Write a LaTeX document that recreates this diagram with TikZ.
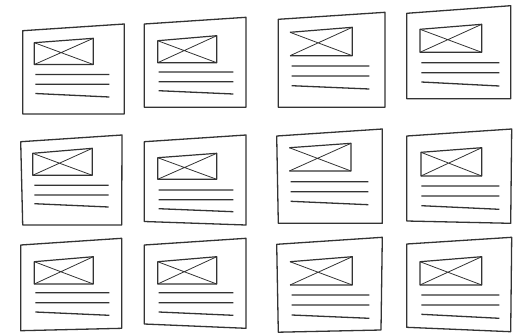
\documentclass[tikz,border=0pt]{standalone}
\definecolor{ink}{HTML}{333333}
\begin{document}
\begin{tikzpicture}[x=1pt,y=-1pt,
  card/.style={draw=ink,line width=1.3pt,line join=round},
  boxline/.style={draw=ink,line width=1.2pt,line join=round},
  cross/.style={draw=ink,line width=0.8pt},
  txt/.style={draw=ink,line width=1.3pt}]
\useasboundingbox (0,0) rectangle (520,333);
% ---------- row 1 ----------
% card 1
\draw[card] (22.7,30.7) -- (124.3,24) -- (124.3,114) -- (22.7,114) -- cycle;
\draw[boxline] (34.3,42.7) -- (93.3,38.3) -- (93.3,64.5) -- (34.3,64.5) -- cycle;
\draw[cross] (34.3,42.7) -- (93.3,64.5) (34.3,64.5) -- (93.3,38.3);
\draw[txt] (35.3,74.5) -- (109.3,74.5) (35.3,84.2) -- (109.3,84.2) (35.3,93.5) -- (109.3,97);
% card 2
\draw[card] (144.3,24) -- (246,17.3) -- (246,107.3) -- (144.3,107.3) -- cycle;
\draw[boxline] (157.7,40.7) -- (216.7,35.7) -- (216.7,62.7) -- (157.7,62.7) -- cycle;
\draw[cross] (157.7,40.7) -- (216.7,62.7) (157.7,62.7) -- (216.7,35.7);
\draw[txt] (158.7,72) -- (233.3,72) (158.7,81.7) -- (233.3,81.7) (158.7,90.7) -- (233.3,94);
% card 3
\draw[card] (278.3,19.3) -- (385,12.3) -- (385,107.3) -- (278.3,107.3) -- cycle;
\draw[boxline] (290,32.3) -- (352.3,27.3) -- (352.3,55.7) -- (290,55.7);
\draw[cross] (290,32.3) -- (352.3,55.7) (290,55.7) -- (352.3,27.3);
\draw[txt] (291.7,66) -- (369.3,66) (291.7,76) -- (369.3,76) (291.7,85.7) -- (369.3,89);
% card 4
\draw[card] (406.7,13.3) -- (510.7,5.7) -- (510.7,98.7) -- (406.7,98.7) -- cycle;
\draw[boxline] (420,29.3) -- (481.7,24.3) -- (481.7,52.3) -- (420,52.3) -- cycle;
\draw[cross] (420,29.3) -- (481.7,52.3) (420,52.3) -- (481.7,24.3);
\draw[txt] (421.3,62.7) -- (499.3,62.7) (421.3,72.7) -- (499.3,72.7) (421.3,82) -- (499.3,86);
% ---------- row 2 ----------
% card 5
\draw[card] (20.7,141.7) -- (122,135) -- (121.7,225) -- (22.7,225) -- cycle;
\draw[boxline] (32.7,153.3) -- (92.3,148.3) -- (92.3,175.3) -- (32.7,175.3) -- cycle;
\draw[cross] (32.7,153.3) -- (92.3,175.3) (32.7,175.3) -- (92.3,148.3);
\draw[txt] (34.3,185.3) -- (108.7,185.3) (34.3,195) -- (108.7,195) (34.3,203.7) -- (108.7,207);
% card 6
\draw[card] (144.3,141.7) -- (246,135) -- (246,225) -- (144.3,221.5) -- cycle;
\draw[boxline] (157.7,157.7) -- (216.7,153.3) -- (216.7,179.3) -- (157.7,179.3) -- cycle;
\draw[cross] (157.7,157.7) -- (216.7,179.3) (157.7,179.3) -- (216.7,153.3);
\draw[txt] (158.7,190) -- (233.3,190) (158.7,199.7) -- (233.3,199.7) (158.7,208.7) -- (233.3,211.7);
% card 7
\draw[card] (276.7,136) -- (382.3,129) -- (382.3,223.3) -- (278.3,223.3) -- cycle;
\draw[boxline] (289.3,147.7) -- (351,143.3) -- (351,171) -- (289.3,171);
\draw[cross] (289.3,147.7) -- (351,171) (289.3,171) -- (351,143.3);
\draw[txt] (290.7,181.7) -- (368.3,181.7) (290.7,191.7) -- (368.3,191.7) (290.7,201.3) -- (368.3,204.7);
% card 8
\draw[card] (406.7,136) -- (511.7,129) -- (510.7,223.3) -- (406.7,221) -- cycle;
\draw[boxline] (421,152.3) -- (481.7,147.7) -- (481.7,176) -- (421,176) -- cycle;
\draw[cross] (421,152.3) -- (481.7,176) (421,176) -- (481.7,147.7);
\draw[txt] (421.3,186) -- (499.3,186) (421.3,196) -- (499.3,196) (421.3,205.7) -- (499.3,209.3);
% ---------- row 3 ----------
% card 9
\draw[card] (20.7,245) -- (121.7,238.3) -- (121.7,328.3) -- (20.7,330.7) -- cycle;
\draw[boxline] (34.3,261.7) -- (93.3,256.7) -- (93.3,284) -- (34.3,284) -- cycle;
\draw[cross] (34.3,261.7) -- (93.3,284) (34.3,284) -- (93.3,256.7);
\draw[txt] (35.3,292.7) -- (109.3,292.7) (35.3,302.7) -- (109.3,302.7) (35.3,312) -- (109.3,315.3);
% card 10
\draw[card] (144.3,245) -- (246,238.3) -- (246,328.3) -- (144.3,324) -- cycle;
\draw[boxline] (157.7,261.7) -- (216.7,256.7) -- (216.7,284) -- (157.7,284) -- cycle;
\draw[cross] (157.7,261.7) -- (216.7,284) (157.7,284) -- (216.7,256.7);
\draw[txt] (158.7,292.7) -- (233.3,292.7) (158.7,302.7) -- (233.3,302.7) (158.7,312) -- (233.3,315.3);
% card 11
\draw[card] (276.7,244.3) -- (382.3,237.3) -- (381,330) -- (278.3,332.2) -- cycle;
\draw[boxline] (290,261.7) -- (352.3,256.7) -- (352.3,285) -- (290,285);
\draw[cross] (290,261.7) -- (352.3,285) (290,285) -- (352.3,256.7);
\draw[txt] (291.7,295) -- (369.3,295) (291.7,305) -- (369.3,305) (291.7,315) -- (369.3,318.3);
% card 12
\draw[card] (406.7,244) -- (511.7,237.3) -- (510.7,331.7) -- (406.7,327.3) -- cycle;
\draw[boxline] (420,261.7) -- (481.7,256.7) -- (481.7,285) -- (420,285) -- cycle;
\draw[cross] (420,261.7) -- (481.7,285) (420,285) -- (481.7,256.7);
\draw[txt] (421.3,295) -- (499.3,295) (421.3,305) -- (499.3,305) (421.3,314.3) -- (499.3,318.3);
\end{tikzpicture}
\end{document}
